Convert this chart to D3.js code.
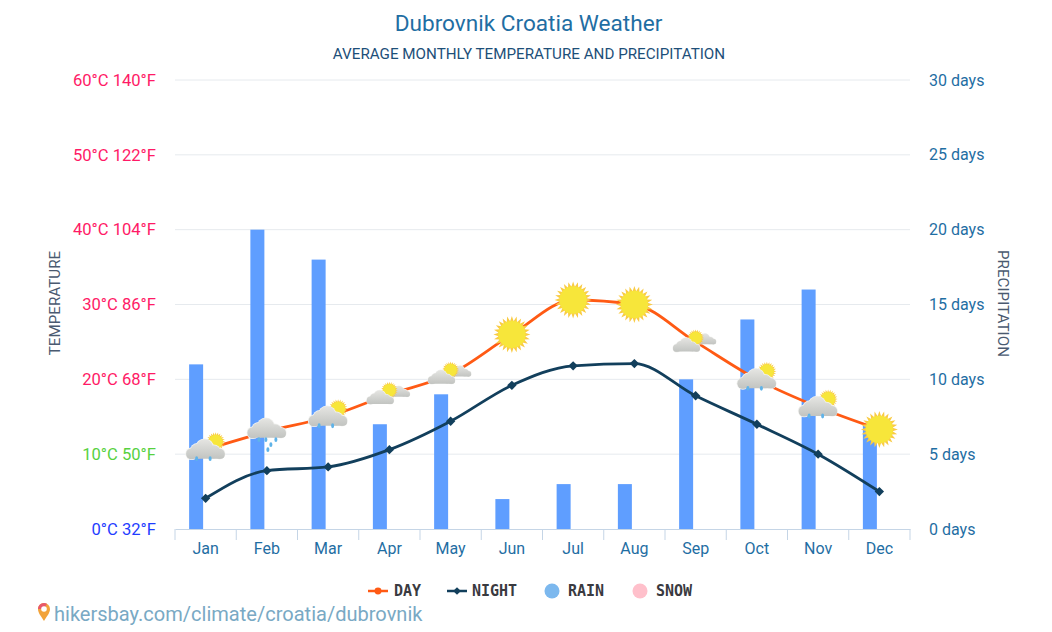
<!DOCTYPE html>
<html lang="en">

<head>
    <meta charset="UTF-8">
    <title>Dubrovnik Croatia Weather</title>
    <style>
        html, body {
            margin: 0;
            padding: 0;
            background: #fff;
        }

        svg {
            display: block;
        }

        text {
            font-family: Roboto, sans-serif;
        }

        .legend-label {
            font-family: "DejaVu Sans Mono", monospace;
            font-size: 15px;
            font-weight: bold;
            fill: #3a3a40;
        }
    </style>
</head>

<body>
    <svg id="chart" width="1052" height="632"></svg>

    <script src="https://d3js.org/d3.v7.min.js"></script>
    <script>
        // Values
        const months = ["Jan", "Feb", "Mar", "Apr", "May", "Jun", "Jul", "Aug", "Sep", "Oct", "Nov", "Dec"];
        const dayTemp = [10.6, 13, 15, 18, 20.7, 26, 30.6, 30, 25, 20, 16.3, 13.3];
        const nightTemp = [4.1, 7.8, 8.3, 10.6, 14.4, 19.2, 21.8, 22.1, 17.8, 14, 10, 5];
        const rainDays = [11, 20, 18, 7, 9, 2, 3, 3, 10, 14, 16, 7];
        const weatherIcons = ["rain", "rain2", "rain", "partly", "partly", "sun", "sun", "sun", "partly", "rain", "rain", "sun"];
        const tempTicks = [0, 10, 20, 30, 40, 50, 60];
        const fahrenheitTicks = [32, 50, 68, 86, 104, 122, 140];
        const dayTicks = [0, 5, 10, 15, 20, 25, 30];
        const legendNames = ["DAY", "NIGHT", "RAIN", "SNOW"];

        const svg = d3.select("#chart");
        const plotLeft = 175, plotRight = 910, plotTop = 80, plotBottom = 529;

        const x = d3.scaleBand().domain(months).range([plotLeft, plotRight]);
        const yTemp = d3.scaleLinear().domain([0, 60]).range([plotBottom, plotTop]);
        const yDays = d3.scaleLinear().domain([0, 30]).range([plotBottom, plotTop]);
        const cx = m => x(m) + x.bandwidth() / 2;

        // Cloud shading
        const grad = svg.append("defs").append("linearGradient").attr("id", "cloudGrad")
            .attr("gradientUnits", "userSpaceOnUse")
            .attr("x1", 0).attr("x2", 0).attr("y1", -12).attr("y2", 8);
        grad.append("stop").attr("offset", "0%").attr("stop-color", "#e6e6e3");
        grad.append("stop").attr("offset", "100%").attr("stop-color", "#c2c4c1");

        // Titles
        svg.append("text").attr("x", 528.5).attr("y", 31).attr("text-anchor", "middle")
            .attr("font-size", 22.6).attr("fill", "#1f6ea3").text("Dubrovnik Croatia Weather");
        svg.append("text").attr("x", 529).attr("y", 59).attr("text-anchor", "middle")
            .attr("font-size", 15.2).attr("fill", "#1d4f79").text("AVERAGE MONTHLY TEMPERATURE AND PRECIPITATION");

        // Grid lines
        svg.append("g").selectAll("line").data(tempTicks.slice(1)).enter().append("line")
            .attr("x1", plotLeft).attr("x2", plotRight)
            .attr("y1", d => yTemp(d)).attr("y2", d => yTemp(d))
            .attr("stroke", "#e6eaee").attr("stroke-width", 1);

        // Left axis, temperature
        const tempColor = d => d === 0 ? "#1f3dff" : d === 10 ? "#57d13f" : "#ff1a66";
        const leftAxis = svg.append("g")
            .attr("transform", "translate(" + plotLeft + ",0)")
            .call(d3.axisLeft(yTemp).tickValues(tempTicks).tickSize(0).tickPadding(19)
                .tickFormat((d, i) => d + "°C " + fahrenheitTicks[i] + "°F"));
        leftAxis.select(".domain").remove();
        leftAxis.selectAll("text").attr("font-size", 16.6).attr("font-family", "Roboto, sans-serif")
            .attr("fill", d => tempColor(d));

        // Right axis, rain days
        const rightAxis = svg.append("g")
            .attr("transform", "translate(" + plotRight + ",0)")
            .call(d3.axisRight(yDays).tickValues(dayTicks).tickSize(0).tickPadding(19)
                .tickFormat(d => d + " days"));
        rightAxis.select(".domain").remove();
        rightAxis.selectAll("text").attr("font-size", 16).attr("font-family", "Roboto, sans-serif")
            .attr("fill", "#1f6ea3");

        // Axis names
        svg.append("text").attr("transform", "translate(60,303) rotate(-90)").attr("text-anchor", "middle")
            .attr("font-size", 15.2).attr("fill", "#4a5a70").text("TEMPERATURE");
        svg.append("text").attr("transform", "translate(998,303.5) rotate(90)").attr("text-anchor", "middle")
            .attr("font-size", 15.2).attr("fill", "#4a5a70").text("PRECIPITATION");

        // Rain bars, set to the left of each month's centre
        svg.append("g").selectAll("rect").data(months).enter().append("rect")
            .attr("x", d => cx(d) - 16.5)
            .attr("width", 14)
            .attr("y", (d, i) => yDays(rainDays[i]))
            .attr("height", (d, i) => plotBottom - yDays(rainDays[i]))
            .attr("fill", "#5f9eff");

        // Month axis
        const bottomAxis = svg.append("g").attr("transform", "translate(0," + plotBottom + ")")
            .call(d3.axisBottom(x).tickSize(0).tickPadding(14));
        bottomAxis.select(".domain").attr("stroke", "#c5d5e6");
        bottomAxis.selectAll("text").attr("font-size", 16).attr("font-family", "Roboto, sans-serif")
            .attr("fill", "#1f6ea3");
        bottomAxis.selectAll(".sep").data(d3.range(months.length + 1)).enter().append("line")
            .attr("class", "sep")
            .attr("x1", i => plotLeft + i * x.step()).attr("x2", i => plotLeft + i * x.step())
            .attr("y1", 0).attr("y2", 11)
            .attr("stroke", "#c5d5e6");

        // Lines
        const line = (values) => d3.line()
            .x((d, i) => cx(months[i]))
            .y(d => yTemp(d))
            .curve(d3.curveMonotoneX)(values);

        svg.append("path").attr("d", line(dayTemp)).attr("fill", "none")
            .attr("stroke", "#ff5a14").attr("stroke-width", 2.8);
        svg.append("path").attr("d", line(nightTemp)).attr("fill", "none")
            .attr("stroke", "#123f5c").attr("stroke-width", 2.8);

        svg.append("g").selectAll("path").data(nightTemp).enter().append("path")
            .attr("d", d3.symbol(d3.symbolDiamond2, 56))
            .attr("transform", (d, i) => "translate(" + cx(months[i]) + "," + yTemp(d) + ")")
            .attr("fill", "#123f5c");

        // Weather icons
        function drawSun(g, dx, dy, r) {
            const spikes = 24;
            const pts = d3.range(spikes * 2).map(i => {
                const a = i * Math.PI / spikes;
                const rad = i % 2 ? r * 0.72 : r;
                return [dx + rad * Math.cos(a), dy + rad * Math.sin(a)];
            });
            g.append("polygon").attr("points", pts.join(" ")).attr("fill", "#f9cb45");
            g.append("circle").attr("cx", dx).attr("cy", dy).attr("r", r * 0.74).attr("fill", "#f7e63a");
        }

        function drawCloud(g, dx, dy, s) {
            const puffs = [[-14, 3, 5.5], [-8, 0, 7], [-1, -3, 8.5], [8, 1, 6.5], [14, 3, 5]];
            const outer = g.append("g").attr("transform", "translate(" + dx + "," + dy + ") scale(" + s + ")");
            puffs.forEach(p => outer.append("circle").attr("cx", p[0]).attr("cy", p[1]).attr("r", p[2] + 0.8).attr("fill", "#f2f2f0"));
            outer.append("rect").attr("x", -19).attr("y", 0).attr("width", 38).attr("height", 8).attr("rx", 4).attr("fill", "url(#cloudGrad)");
            puffs.forEach(p => outer.append("circle").attr("cx", p[0]).attr("cy", p[1]).attr("r", p[2]).attr("fill", "url(#cloudGrad)"));
        }

        function drawDrops(g, dx, dy, extra) {
            const drops = extra ? [[-8, 8], [-1, 8], [9, 8], [4, 13], [1, 18]] : [[-9, 9], [4.5, 9]];
            drops.forEach(d => g.append("ellipse")
                .attr("cx", dx + d[0]).attr("cy", dy + d[1])
                .attr("rx", 1.5).attr("ry", 2.4).attr("fill", "#5fb3e8"));
        }

        months.forEach((m, i) => {
            const g = svg.append("g").attr("transform", "translate(" + cx(m) + "," + yTemp(dayTemp[i]) + ")");
            const kind = weatherIcons[i];
            if (kind === "sun") {
                drawSun(g, 0, 0, 18.5);
            } else if (kind === "partly") {
                drawCloud(g, 10, -2, 0.55);
                drawSun(g, 0, -4, 8.5);
                drawCloud(g, -9, 4, 0.7);
            } else if (kind === "rain2") {
                drawCloud(g, 0, -2, 1);
                drawDrops(g, 0, 0, true);
            } else {
                drawSun(g, 10, -8, 9.5);
                drawCloud(g, 0, 1, 1);
                drawDrops(g, 0, 0, false);
            }
        });

        // Legend
        const legendX = [378, 457, 552, 640];
        const legendColors = ["#ff5a14", "#123f5c", "#7cb8ee", "#ffc0cb"];
        const legendTextX = [394, 472, 568, 656];
        const legend = svg.append("g");
        legendNames.forEach((name, i) => {
            if (i < 2) {
                legend.append("line").attr("x1", legendX[i] - 10).attr("x2", legendX[i] + 10)
                    .attr("y1", 591).attr("y2", 591).attr("stroke", legendColors[i]).attr("stroke-width", 2.5);
                legend.append("path")
                    .attr("d", d3.symbol(i === 0 ? d3.symbolCircle : d3.symbolDiamond2, 38))
                    .attr("transform", "translate(" + legendX[i] + ",591)").attr("fill", legendColors[i]);
            } else {
                legend.append("circle").attr("cx", legendX[i]).attr("cy", 591).attr("r", 7.5).attr("fill", legendColors[i]);
            }
            legend.append("text").attr("class", "legend-label").attr("x", legendTextX[i]).attr("y", 596).text(name);
        });

        // Watermark
        const pin = svg.append("g").attr("transform", "translate(44,612)");
        pin.append("path").attr("d", "M0,9 C-3,4 -6,1 -6,-3 A6,6 0 1 1 6,-3 C6,1 3,4 0,9 Z").attr("fill", "#f2a33a");
        pin.append("path").attr("d", "M-6,-3 A6,6 0 0 1 3,-8.2 L0,-3 Z").attr("fill", "#e8596b");
        pin.append("circle").attr("cx", 0).attr("cy", -3).attr("r", 2.8).attr("fill", "#fff");
        svg.append("text").attr("x", 54).attr("y", 621).attr("font-size", 20.05).attr("fill", "#79a9c4")
            .text("hikersbay.com/climate/croatia/dubrovnik");
    </script>
</body>

</html>
